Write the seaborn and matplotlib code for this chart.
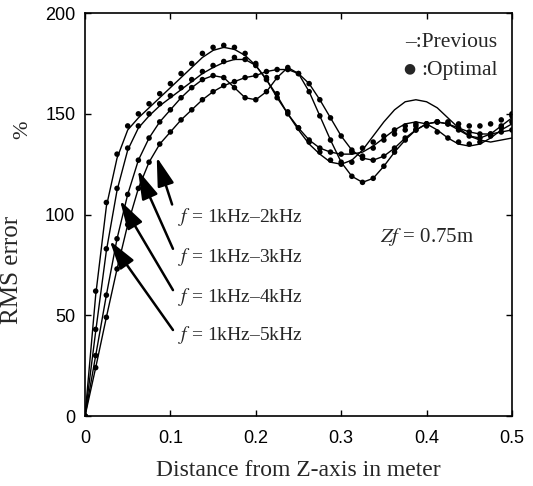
import numpy as np
import pandas as pd
import matplotlib
matplotlib.use("Agg")
import matplotlib.pyplot as plt
import seaborn as sns

# distance grid (m), one sample every 0.0125 m
distancia = np.linspace(0, 0.5, 41)

faixas = ["1kHz-5kHz", "1kHz-4kHz", "1kHz-3kHz", "1kHz-2kHz"]

# "Previous" curves (solid lines), RMS error in %
prev_1_5 = [0, 60, 104, 128, 142, 148, 153, 158, 163, 168,
            173, 178, 181.5, 183, 182, 179, 174, 167, 159, 150,
            142, 135, 130, 126, 125, 127, 132, 139, 146, 152,
            156, 157, 156, 153, 148, 143, 139, 137, 136, 137, 138]
prev_1_4 = [0, 42, 82, 112, 132, 143, 149, 154, 158, 162,
            166, 170, 173, 175.5, 177, 177, 174, 167, 158, 150,
            143, 137, 133, 131, 130, 130, 131, 134, 138, 142,
            145, 146, 145, 142, 138, 135, 134, 135, 138, 142, 145]
prev_1_3 = [0, 30, 60, 88, 110, 127, 138, 146, 152, 158,
            163, 167, 169, 168, 163, 158, 157, 161, 168, 173,
            170, 161, 149, 137, 126, 119, 116, 118, 124, 131,
            137, 142, 145, 146, 145, 143, 141, 140, 140, 141, 142]
prev_1_2 = [0, 24, 49, 73, 95, 113, 126, 135, 141, 147,
            152, 157, 161, 164, 166, 168, 169, 171, 172, 172,
            170, 165, 157, 148, 139, 132, 128, 127, 129, 133,
            138, 142, 145, 146, 145, 142, 139, 138, 140, 144, 148]

# "Optimal" curves (dots)
opt_1_5 = [0, 62, 106, 130, 144, 150, 155, 160, 165, 170,
           175, 180, 183, 184, 183, 180, 175, 168, 160, 151,
           143, 136, 131, 127, 125, 126, 129, 133, 137, 140,
           142, 144, 145, 146, 146, 145, 144, 144, 145, 147, 150]
opt_1_4 = [0, 43, 83, 113, 133, 144, 150, 155, 159, 163,
           167, 171, 174, 176, 178, 177, 174, 167, 158, 150,
           143, 137, 133, 131, 130, 131, 133, 136, 139, 142,
           144, 145, 144, 141, 138, 136, 135, 136, 139, 143, 146]
opt_1_3 = [0, 30, 60, 88, 110, 127, 138, 146, 152, 158,
           163, 167, 169, 168, 163, 158, 157, 161, 168, 173,
           170, 161, 149, 137, 126, 119, 116, 118, 124, 131,
           137, 142, 145, 146, 145, 143, 141, 140, 140, 141, 142]
opt_1_2 = [0, 24, 49, 73, 95, 113, 126, 135, 141, 147,
           152, 157, 161, 164, 166, 168, 169, 171, 172, 172,
           170, 165, 157, 148, 139, 132, 128, 127, 129, 133,
           138, 142, 145, 146, 145, 142, 139, 138, 140, 144, 149]

# arrow tails (near labels) and tips (on curves), 1-2kHz first
rotulos = ["1kHz\u20132kHz", "1kHz\u20133kHz", "1kHz\u20134kHz", "1kHz\u20135kHz"]
rotulo_y = [99, 79, 59, 40]
seta_cauda = [(0.102, 105), (0.103, 83), (0.103, 62.5), (0.103, 42.7)]
seta_ponta = [(0.084, 128.5), (0.062, 122), (0.041, 107), (0.029, 87)]

df_prev = pd.DataFrame({
    "distancia": np.tile(distancia, 4),
    "erro": prev_1_5 + prev_1_4 + prev_1_3 + prev_1_2,
    "faixa": np.repeat(faixas, len(distancia)),
})
df_opt = pd.DataFrame({
    "distancia": np.tile(distancia, 4),
    "erro": opt_1_5 + opt_1_4 + opt_1_3 + opt_1_2,
    "faixa": np.repeat(faixas, len(distancia)),
})

sns.set_style("ticks")
plt.rcParams["font.family"] = ["Liberation Sans", "DejaVu Sans"]
plt.rcParams["mathtext.fontset"] = "stix"

fig = plt.figure(figsize=(5.33, 4.86), dpi=100)
ax = fig.add_axes([0.1595, 0.144, 0.801, 0.829])

preto = {f: "black" for f in faixas}
sns.lineplot(data=df_prev, x="distancia", y="erro", hue="faixa", palette=preto,
             linewidth=1.0, legend=False, ax=ax)
sns.scatterplot(data=df_opt, x="distancia", y="erro", hue="faixa", palette=preto,
                s=16, linewidth=0, legend=False, ax=ax, zorder=3)

ax.set_xlim(0, 0.5)
ax.set_ylim(0, 200)
ax.set_xticks([0, 0.1, 0.2, 0.3, 0.4, 0.5])
ax.set_xticklabels(["0", "0.1", "0.2", "0.3", "0.4", "0.5"])
ax.set_yticks([0, 50, 100, 150, 200])
ax.tick_params(direction="in", length=4, width=1, top=True, right=True,
               labelsize=13, colors="black")
ax.tick_params(axis="x", pad=10)
ax.tick_params(axis="y", pad=7)
for s in ax.spines.values():
    s.set_color("black")
    s.set_linewidth(1.2)

serif = ["Liberation Serif", "DejaVu Serif"]
ax.set_xlabel("Distance from Z-axis in meter", family=serif, fontsize=17)
ax.xaxis.set_label_coords(0.5, -0.108)
ax.set_ylabel("RMS error", family=serif, fontsize=18)
ax.yaxis.set_label_coords(-0.145, 0.362)
ax.text(-0.145, 0.71, "%", transform=ax.transAxes, rotation=90, family=serif,
        fontsize=16, ha="center", va="center")

for rot, ry, cauda, ponta in zip(rotulos, rotulo_y, seta_cauda, seta_ponta):
    ax.text(0.109, ry, "$f$ = " + rot, family=serif, fontsize=14,
            ha="left", va="center")
    ax.annotate("", xy=ponta, xytext=cauda,
                arrowprops=dict(arrowstyle="-|>,head_length=1.1,head_width=0.32",
                                color="black", lw=1.8, mutation_scale=16,
                                shrinkA=0, shrinkB=0))

ax.text(0.345, 89, "$Zf$ = 0.75m", family=serif, fontsize=15, ha="left", va="center")
ax.text(0.483, 185.5, "\u2013:Previous", family=serif, fontsize=15.5, ha="right", va="center")
ax.text(0.380, 172.5, "\u25cf", family=["DejaVu Sans"], fontsize=10,
        ha="center", va="center")
ax.text(0.483, 171.5, ":Optimal", family=serif, fontsize=15.5,
        ha="right", va="center")

fig.savefig("out.png", dpi=100)
